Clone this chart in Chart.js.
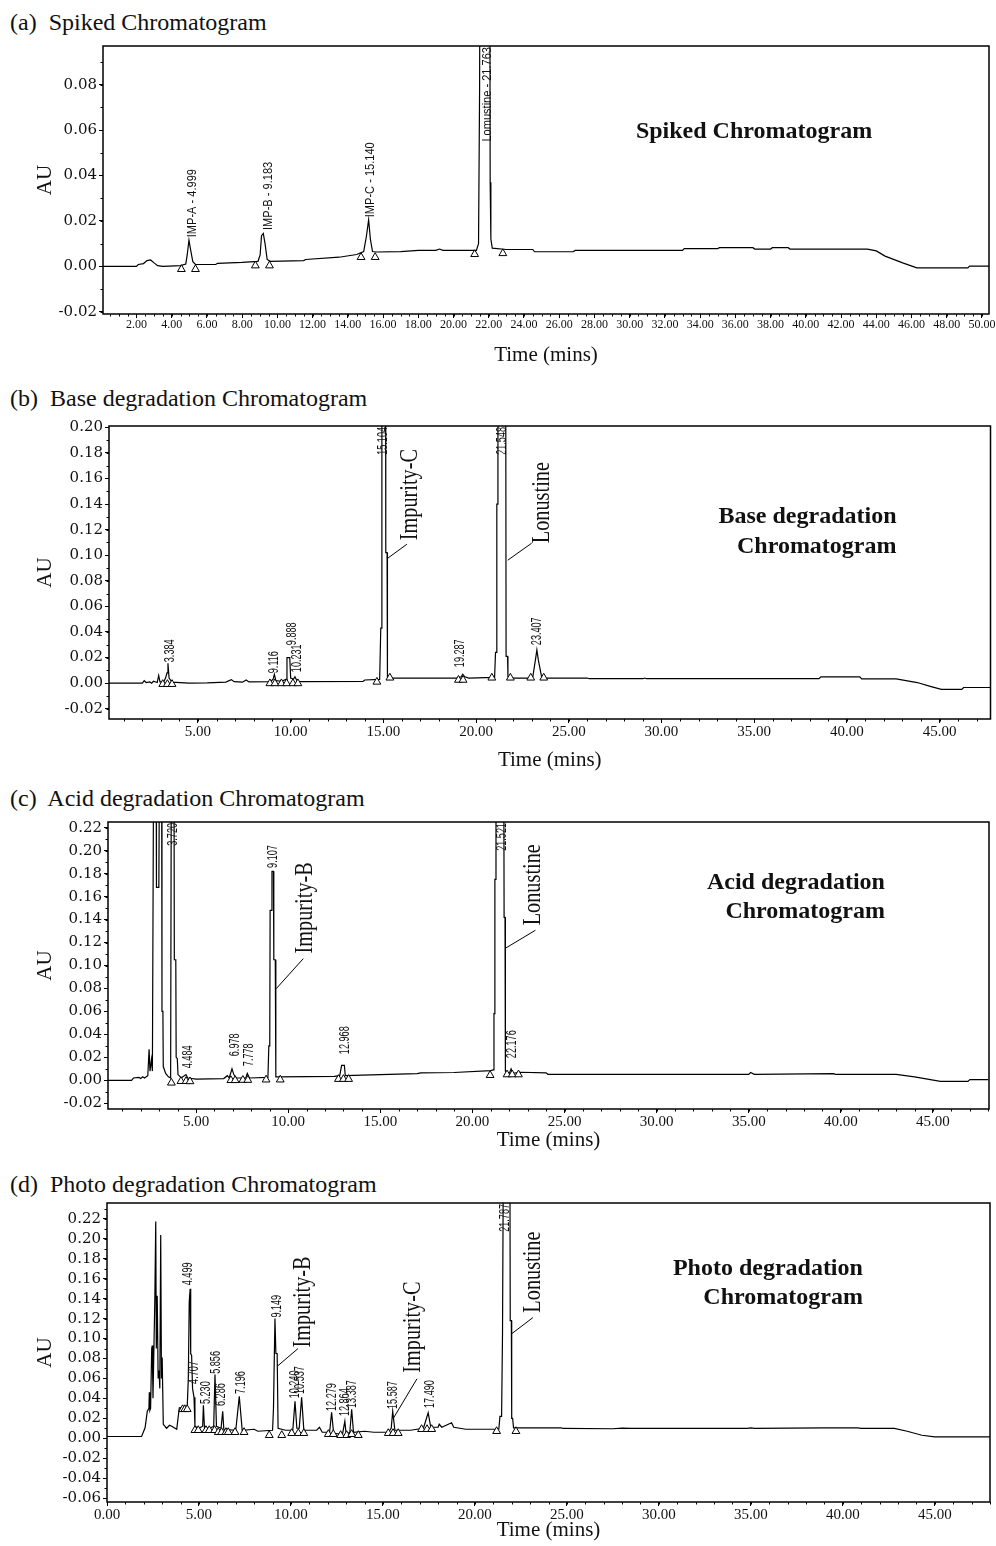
<!DOCTYPE html>
<html>
<head>
<meta charset="utf-8">
<script src="https://cdn.jsdelivr.net/npm/chart.js@4.4.1/dist/chart.umd.min.js"></script>
<style>
  body { margin: 0; background: #fff; width: 996px; height: 1546px; position: relative; overflow: hidden; font-family: "Liberation Serif", serif; }
  .title { position: absolute; left: 10px; font-size: 24px; line-height: 28px; white-space: pre; color: #111; }
  .box { position: absolute; left: 0; width: 996px; }
</style>
</head>
<body>
<div class="title" style="top:8px">(a)  Spiked Chromatogram</div>
<div class="box" style="top:40px;height:330px"><canvas id="chartA"></canvas></div>
<div class="title" style="top:384px">(b)  Base degradation Chromatogram</div>
<div class="box" style="top:410px;height:365px"><canvas id="chartB"></canvas></div>
<div class="title" style="top:784px">(c)  Acid degradation Chromatogram</div>
<div class="box" style="top:812px;height:343px"><canvas id="chartC"></canvas></div>
<div class="title" style="top:1170px">(d)  Photo degradation Chromatogram</div>
<div class="box" style="top:1195px;height:349px"><canvas id="chartD"></canvas></div>

<script>
// tick values
const xTicksA = [2, 4, 6, 8, 10, 12, 14, 16, 18, 20, 22, 24, 26, 28, 30, 32, 34, 36, 38, 40, 42, 44, 46, 48, 50];
const xTicksB = [5, 10, 15, 20, 25, 30, 35, 40, 45];
const xTicksD = [0, 5, 10, 15, 20, 25, 30, 35, 40, 45];
const yTicksA = [-0.02, 0, 0.02, 0.04, 0.06, 0.08];
const yTicksB = [-0.02, 0, 0.02, 0.04, 0.06, 0.08, 0.10, 0.12, 0.14, 0.16, 0.18, 0.20];
const yTicksC = [-0.02, 0, 0.02, 0.04, 0.06, 0.08, 0.10, 0.12, 0.14, 0.16, 0.18, 0.20, 0.22];
const yTicksD = [-0.06, -0.04, -0.02, 0, 0.02, 0.04, 0.06, 0.08, 0.10, 0.12, 0.14, 0.16, 0.18, 0.20, 0.22];

// traces [time (min), AU]
const traceA = [
  [0.1, 0], [2.0, 0], [2.1, 0.0008], [2.4, 0.0012], [2.6, 0.0025], [2.8, 0.0028], [3.0, 0.0015], [3.2, 0.0003], [3.5, 0],
  [4.5, 0.0003], [4.8, 0.001], [4.88, 0.005], [4.98, 0.0115], [5.08, 0.007], [5.2, 0.002], [5.35, 0.0008], [6.5, 0.0008],
  [6.6, 0.0013], [8.0, 0.0017], [8.9, 0.0022], [9.02, 0.005], [9.1, 0.0135], [9.2, 0.0145], [9.3, 0.01], [9.42, 0.003],
  [9.6, 0.0022], [11.5, 0.0025], [11.6, 0.003], [13.5, 0.004], [14.5, 0.0052], [14.9, 0.0065], [15.05, 0.013],
  [15.18, 0.0205], [15.28, 0.012], [15.4, 0.0065], [15.6, 0.0063], [17, 0.0065], [18, 0.007], [19, 0.007], [19.2, 0.0076],
  [19.4, 0.007], [21.3, 0.007], [21.42, 0.01], [21.48, 0.078], [21.52, 0.2], [22.05, 0.2], [22.08, 0.037], [22.12, 0.012],
  [22.2, 0.008], [23.0, 0.0074], [24.5, 0.0074], [24.6, 0.0064], [26.8, 0.0064], [26.9, 0.007], [33, 0.007], [33.1, 0.0078],
  [35, 0.0078], [35.1, 0.0082], [37, 0.0082], [37.1, 0.0076], [38, 0.0076], [38.1, 0.0082], [39, 0.0082], [39.1, 0.0076],
  [43.5, 0.0076], [44, 0.0068], [44.5, 0.0045], [45.5, 0.0015], [46.3, -0.0007], [49.2, -0.0007], [49.3, 0.0001], [50.4, 0.0001]
];
const traceB = [
  [0.2, 0], [2.0, 0], [2.1, 0.002], [2.2, 0.0005], [2.4, 0.001], [2.5, 0], [2.6, 0.0015], [2.8, 0.0005], [2.88, 0.006],
  [2.95, 0.001], [3.15, 0.001], [3.25, 0.004], [3.33, 0.008], [3.38, 0.0155], [3.44, 0.004], [3.6, 0.0008], [4.5, 0],
  [5.5, 0.0002], [6.5, 0.0008], [6.8, 0.0028], [6.95, 0.0012], [7.4, 0.0008], [7.6, 0.0025], [7.75, 0.001], [8.9, 0.0012],
  [9.05, 0.003], [9.12, 0.007], [9.2, 0.002], [9.5, 0.0015], [9.75, 0.003], [9.8, 0.02], [9.95, 0.02], [10.0, 0.004],
  [10.15, 0.003], [10.23, 0.005], [10.35, 0.0015], [10.6, 0.0012], [13.9, 0.0014], [14.0, 0.0025], [14.8, 0.003],
  [14.86, 0.043], [14.9, 0.043], [14.92, 0.25], [15.12, 0.25], [15.13, 0.102], [15.2, 0.102], [15.22, 0.005], [15.4, 0.004],
  [19.0, 0.004], [19.2, 0.005], [19.28, 0.007], [19.4, 0.005], [19.6, 0.004], [21.0, 0.0045], [21.05, 0.024], [21.1, 0.024],
  [21.12, 0.14], [21.16, 0.14], [21.18, 0.25], [21.6, 0.25], [21.62, 0.021], [21.7, 0.021], [21.72, 0.005], [22.0, 0.004],
  [23.05, 0.004], [23.2, 0.018], [23.28, 0.026], [23.36, 0.018], [23.55, 0.004], [26, 0.004], [26.1, 0.0035], [29, 0.0035],
  [29.1, 0.004], [29.2, 0.0035], [38.5, 0.0035], [38.6, 0.005], [40.7, 0.005], [40.8, 0.0033], [42.66, 0.0033],
  [43.8, 0.0005], [44.5, -0.0025], [45.1, -0.0049], [46.2, -0.0049], [46.3, -0.0034], [47.8, -0.0034]
];
const traceC = [
  [0.2, 0], [1.5, 0], [1.6, 0.002], [1.9, 0.0025], [2.0, 0.0015], [2.1, 0.003], [2.2, 0.002], [2.38, 0.004], [2.45, 0.027],
  [2.5, 0.008], [2.58, 0.018], [2.63, 0.008], [2.7, 0.3], [2.83, 0.3], [2.85, 0.168], [2.98, 0.168], [3.02, 0.3], [3.13, 0.3],
  [3.15, 0.06], [3.2, 0.06], [3.22, 0.012], [3.35, 0.006], [3.5, 0.003], [3.62, 0.002], [3.66, 0.3], [3.8, 0.3], [3.82, 0.105],
  [3.9, 0.105], [3.92, 0.02], [3.98, 0.019], [4.02, 0.005], [4.2, 0.002], [4.45, 0.005], [4.55, 0.002], [5.0, 0.001],
  [6.5, 0.0015], [6.7, 0.004], [6.8, 0.002], [6.95, 0.01], [7.05, 0.005], [7.2, 0.002], [7.7, 0.002], [7.78, 0.006],
  [7.9, 0.002], [8.9, 0.0025], [8.95, 0.03], [9.0, 0.03], [9.02, 0.148], [9.1, 0.148], [9.12, 0.182], [9.2, 0.182],
  [9.22, 0.105], [9.3, 0.105], [9.33, 0.003], [9.5, 0.003], [12.5, 0.0035], [12.8, 0.004], [12.9, 0.013], [13.05, 0.013],
  [13.1, 0.004], [15, 0.005], [17, 0.0058], [17.2, 0.0065], [19, 0.0068], [21.0, 0.0085], [21.13, 0.009], [21.17, 0.058],
  [21.2, 0.058], [21.22, 0.175], [21.26, 0.175], [21.28, 0.3], [21.7, 0.3], [21.72, 0.142], [21.77, 0.142], [21.79, 0.008],
  [22.0, 0.006], [22.1, 0.01], [22.2, 0.006], [22.6, 0.007], [24.0, 0.0065], [24.1, 0.0052], [35, 0.0052], [35.1, 0.0068],
  [35.3, 0.0052], [39.6, 0.0058], [39.7, 0.0052], [43.0, 0.0052], [44, 0.003], [45.4, -0.0009], [46.9, -0.0009],
  [47.0, 0.0006], [48, 0.0006]
];
const traceD = [
  [0, 0.0017], [1.88, 0.0017], [2.07, 0.0104], [2.19, 0.027], [2.28, 0.03], [2.3, 0.046], [2.33, 0.028], [2.37, 0.03],
  [2.43, 0.09], [2.46, 0.093], [2.5, 0.04], [2.55, 0.09], [2.6, 0.14], [2.65, 0.2175], [2.68, 0.09], [2.73, 0.143],
  [2.78, 0.06], [2.83, 0.068], [2.87, 0.05], [2.92, 0.204], [2.96, 0.06], [3.0, 0.081], [3.06, 0.014], [3.24, 0.01],
  [3.4, 0.013], [3.52, 0.012], [3.79, 0.009], [3.93, 0.0306], [4.36, 0.031], [4.42, 0.06], [4.47, 0.137], [4.52, 0.15],
  [4.55, 0.085], [4.6, 0.083], [4.65, 0.05], [4.73, 0.041], [4.78, 0.012], [5.0, 0.01], [5.2, 0.012], [5.24, 0.033],
  [5.3, 0.01], [5.6, 0.01], [5.8, 0.012], [5.87, 0.064], [5.95, 0.012], [6.2, 0.01], [6.29, 0.027], [6.35, 0.009],
  [7.0, 0.008], [7.19, 0.042], [7.35, 0.008], [8.0, 0.009], [8.2, 0.007], [9.0, 0.008], [9.05, 0.03], [9.13, 0.12],
  [9.18, 0.085], [9.25, 0.085], [9.3, 0.01], [9.7, 0.008], [10.1, 0.008], [10.22, 0.037], [10.32, 0.01], [10.45, 0.01],
  [10.58, 0.041], [10.7, 0.008], [11.4, 0.008], [11.55, 0.011], [11.7, 0.006], [12.1, 0.006], [12.21, 0.026], [12.32, 0.005],
  [12.8, 0.004], [12.93, 0.017], [13.0, 0.004], [13.2, 0.006], [13.3, 0.029], [13.4, 0.006], [14.0, 0.007], [14.5, 0.006],
  [15.3, 0.006], [15.45, 0.01], [15.53, 0.027], [15.65, 0.008], [16.5, 0.008], [17.2, 0.01], [17.46, 0.0256], [17.6, 0.011],
  [18.0, 0.011], [18.06, 0.014], [18.2, 0.011], [18.73, 0.0155], [18.85, 0.011], [19.5, 0.009], [21.3, 0.009], [21.36, 0.022],
  [21.45, 0.022], [21.5, 0.105], [21.55, 0.3], [21.9, 0.3], [21.92, 0.118], [21.98, 0.118], [22.0, 0.02], [22.05, 0.02],
  [22.1, 0.0104], [24.7, 0.0104], [24.8, 0.0098], [27.5, 0.0095], [28, 0.0102], [28.5, 0.0098], [34.8, 0.0098],
  [35, 0.0104], [35.2, 0.0098], [39, 0.0104], [40.8, 0.0104], [41, 0.0098], [42.8, 0.0098], [43.5, 0.007], [44.3, 0.003],
  [45.0, 0.0013], [48, 0.0013]
];

// integration start/end markers (triangles)
const marksA = [[4.55, -0.0013], [5.35, -0.0013], [8.75, 0.0003], [9.55, 0.0003], [14.75, 0.004], [15.55, 0.004], [21.2, 0.0053], [22.8, 0.0057]];
const marksB = [[3.1, -0.0008], [3.35, -0.0008], [3.6, -0.0008], [8.88, -0.0002], [9.15, -0.0002], [9.5, -0.0002], [9.78, -0.0002],
  [10.12, -0.0002], [10.39, -0.0002], [14.65, 0.001], [15.35, 0.0042], [19.05, 0.0025], [19.3, 0.0025], [20.85, 0.0042],
  [21.85, 0.0042], [22.95, 0.0042], [23.65, 0.0042]];
const marksC = [[3.66, -0.0022], [4.18, -0.0008], [4.46, -0.0008], [4.67, -0.001], [6.89, 0], [7.12, 0], [7.54, 0.0002], [7.81, 0.0002],
  [8.8, 0.0005], [9.57, 0.0005], [12.73, 0.001], [13.0, 0.001], [13.28, 0.001], [20.96, 0.0044], [21.88, 0.005], [22.16, 0.005], [22.5, 0.005]];
const marksD = [[4.11, 0.029], [4.23, 0.029], [4.36, 0.029], [4.78, 0.008], [4.96, 0.008], [5.38, 0.008], [5.56, 0.008], [5.85, 0.008],
  [6.05, 0.006], [6.23, 0.006], [6.47, 0.006], [6.59, 0.006], [6.96, 0.006], [7.45, 0.006], [8.82, 0.003], [9.5, 0.003],
  [10.04, 0.005], [10.4, 0.005], [10.7, 0.005], [12.03, 0.004], [12.3, 0.004], [12.7, 0.003], [13.03, 0.003], [13.3, 0.004],
  [13.66, 0.003], [15.29, 0.005], [15.55, 0.005], [15.83, 0.005], [17.1, 0.009], [17.4, 0.009], [17.65, 0.009], [21.18, 0.007], [22.23, 0.007]];

// peak labels [time, AU where the label starts (null = hangs from top), text]
const peakLabelsA = [[5.16, 0.0128, 'IMP-A - 4.999'], [9.5, 0.016, 'IMP-B - 9.183'], [15.3, 0.0216, 'IMP-C - 15.140'], [21.94, null, 'Lomustine - 21.763']];
const peakLabelsB = [[3.49, 0.0164, '3.384'], [9.10, 0.0078, '9.116'], [10.07, 0.0297, '9.888'], [10.34, 0.0086, '10.231'],
  [14.97, null, '15.104'], [19.12, 0.0125, '19.287'], [21.39, null, '21.548'], [23.27, 0.0297, '23.407']];
const peakLabelsC = [[3.75, null, '3.720'], [4.57, 0.0105, '4.484'], [7.12, 0.021, '6.978'], [7.88, 0.0123, '7.778'],
  [9.18, 0.185, '9.107'], [13.10, 0.0228, '12.968'], [21.63, null, '21.521'], [22.17, 0.0193, '22.176']];
const peakLabelsD = [[4.40, 0.1535, '4.499'], [4.73, 0.0545, '4.707'], [5.38, 0.0343, '5.230'], [5.92, 0.0646, '5.856'],
  [6.20, 0.0323, '6.286'], [7.28, 0.0444, '7.196'], [9.24, 0.121, '9.149'], [10.22, 0.040, '10.240'], [10.49, 0.0444, '10.537'],
  [12.23, 0.0273, '12.279'], [12.93, 0.0222, '12.864'], [13.32, 0.0303, '13.387'], [15.54, 0.0293, '15.587'],
  [17.55, 0.0303, '17.490'], [21.63, null, '21.787']];

const decor = {
  id: 'decor',
  afterDatasetsDraw(chart, args, o) {
    const { ctx, chartArea: a, scales: { x, y } } = chart;
    ctx.save();
    ctx.strokeStyle = '#000';
    ctx.lineWidth = 1;
    ctx.beginPath();
    const nx0 = Math.ceil(x.min / o.xMinor), nx1 = Math.floor(x.max / o.xMinor);
    for (let i = nx0; i <= nx1; i++) {
      const px = Math.round(x.getPixelForValue(i * o.xMinor)) + 0.5;
      ctx.moveTo(px, a.bottom);
      ctx.lineTo(px, a.bottom + 2.5);
    }
    const ny0 = Math.ceil(y.min / o.yMinor - 1e-9), ny1 = Math.floor(y.max / o.yMinor + 1e-9);
    for (let i = ny0; i <= ny1; i++) {
      const py = Math.round(y.getPixelForValue(i * o.yMinor)) + 0.5;
      ctx.moveTo(a.left, py);
      ctx.lineTo(a.left - 2.5, py);
    }
    ctx.stroke();
    ctx.lineWidth = 1.5;
    ctx.strokeRect(a.left, a.top, a.right - a.left, a.bottom - a.top);

    ctx.fillStyle = '#111';
    ctx.textBaseline = 'middle';
    ctx.textAlign = 'left';
    const vtext = (txt, px, py, font, sc) => {
      ctx.save();
      ctx.font = font;
      ctx.translate(px, py);
      ctx.rotate(-Math.PI / 2);
      ctx.scale(sc, 1);
      ctx.fillText(txt, 0, 0);
      ctx.restore();
    };
    o.peaks.forEach(([t, lv, txt]) => {
      ctx.font = o.peakFont;
      const w = ctx.measureText(txt).width * o.peakScale;
      const py = lv === null ? a.top + w + 1 : y.getPixelForValue(lv);
      vtext(txt, x.getPixelForValue(t), py, o.peakFont, o.peakScale);
    });
    ctx.lineWidth = 1;
    o.callouts.forEach(c => {
      ctx.beginPath();
      ctx.moveTo(x.getPixelForValue(c.from[0]), y.getPixelForValue(c.from[1]));
      ctx.lineTo(x.getPixelForValue(c.to[0]), y.getPixelForValue(c.to[1]));
      ctx.stroke();
      vtext(c.text, x.getPixelForValue(c.x), y.getPixelForValue(c.y), '26px "Liberation Serif"', 0.78);
    });
    ctx.font = 'bold 24px "Liberation Serif"';
    ctx.textAlign = o.note.align;
    o.note.lines.forEach((ln, i) => {
      ctx.fillText(ln, x.getPixelForValue(o.note.x), y.getPixelForValue(o.note.y[i]));
    });
    ctx.restore();
  }
};

const panels = [
  { id: 'chartA', trace: traceA, marks: marksA, peaks: peakLabelsA, xTicks: xTicksA, yTicks: yTicksA,
    xMin: 0.1, xMax: 50.4, yMin: -0.021, yMax: 0.097, left: 103, top: 6, right: 7, xh: 56, titlePad: 2.4,
    xFont: 12, xMinor: 0.5, yMinor: 0.01, peakFont: '13px "Liberation Sans"', peakScale: 0.85,
    callouts: [],
    note: { lines: ['Spiked Chromatogram'], x: 37.06, y: [0.0592], align: 'center' } },
  { id: 'chartB', trace: traceB, marks: marksB, peaks: peakLabelsB, xTicks: xTicksB, yTicks: yTicksB,
    xMin: 0.2, xMax: 47.75, yMin: -0.028, yMax: 0.201, left: 109, top: 16, right: 5, xh: 56, titlePad: 2.4,
    xFont: 15, xMinor: 1, yMinor: 0.01, peakFont: '14px "Liberation Sans"', peakScale: 0.65,
    callouts: [
      { text: 'Impurity-C', x: 16.43, y: 0.1117, from: [15.24, 0.0977], to: [16.27, 0.1086] },
      { text: 'Lonustine', x: 23.54, y: 0.1094, from: [21.71, 0.0961], to: [23.0, 0.1094] }
    ],
    note: { lines: ['Base degradation', 'Chromatogram'], x: 42.68, y: [0.1297, 0.1063], align: 'right' } },
  { id: 'chartC', trace: traceC, marks: marksC, peaks: peakLabelsC, xTicks: xTicksB, yTicks: yTicksC,
    xMin: 0.22, xMax: 48.04, yMin: -0.025, yMax: 0.225, left: 108, top: 10, right: 7, xh: 46, titlePad: 2.4,
    xFont: 15, xMinor: 1, yMinor: 0.01, peakFont: '14px "Liberation Sans"', peakScale: 0.65,
    callouts: [
      { text: 'Impurity-B', x: 10.92, y: 0.1105, from: [9.35, 0.0798], to: [10.82, 0.106] },
      { text: 'Lonustine', x: 23.32, y: 0.135, from: [21.79, 0.115], to: [23.42, 0.1307] }
    ],
    note: { lines: ['Acid degradation', 'Chromatogram'], x: 42.39, y: [0.172, 0.1465], align: 'right' } },
  { id: 'chartD', trace: traceD, marks: marksD, peaks: peakLabelsD, xTicks: xTicksD, yTicks: yTicksD,
    xMin: 0, xMax: 48, yMin: -0.064, yMax: 0.236, left: 107, top: 8, right: 6, xh: 42, titlePad: 1.4,
    xFont: 15, xMinor: 1, yMinor: 0.01, peakFont: '14px "Liberation Sans"', peakScale: 0.65,
    callouts: [
      { text: 'Impurity-B', x: 10.65, y: 0.0909, from: [9.29, 0.0727], to: [10.38, 0.0899] },
      { text: 'Impurity-C', x: 16.63, y: 0.0657, from: [15.54, 0.0192], to: [16.85, 0.0596] },
      { text: 'Lonustine', x: 23.15, y: 0.126, from: [22.01, 0.105], to: [23.15, 0.121] }
    ],
    note: { lines: ['Photo degradation', 'Chromatogram'], x: 41.09, y: [0.1697, 0.1404], align: 'right' } }
];

function makeChart(p) {
  return new Chart(document.getElementById(p.id), {
    type: 'line',
    data: {
      datasets: [
        { data: p.marks, showLine: false, pointStyle: 'triangle', pointRadius: 4.5,
          pointBackgroundColor: '#fff', pointBorderColor: '#000', pointBorderWidth: 1 },
        { data: p.trace, borderColor: '#000', borderWidth: 1.2, pointRadius: 0, tension: 0, fill: false }
      ]
    },
    options: {
      responsive: true,
      maintainAspectRatio: false,
      animation: false,
      layout: { padding: { top: p.top, right: p.right, left: 0, bottom: 0 } },
      plugins: {
        legend: { display: false },
        tooltip: { enabled: false },
        decor: { xMinor: p.xMinor, yMinor: p.yMinor, peaks: p.peaks, peakFont: p.peakFont,
          peakScale: p.peakScale, callouts: p.callouts, note: p.note }
      },
      scales: {
        x: {
          type: 'linear', min: p.xMin, max: p.xMax,
          afterBuildTicks: s => { s.ticks = p.xTicks.map(v => ({ value: v })); },
          afterFit: s => { s.height = p.xh; s.paddingLeft = 0; s.paddingRight = 0; },
          grid: { drawOnChartArea: false, color: '#000', tickLength: 4 },
          border: { display: false },
          ticks: { autoSkip: false, maxRotation: 0, padding: 0, color: '#111',
            font: { family: 'Liberation Serif', size: p.xFont }, callback: v => v.toFixed(2) },
          title: { display: true, text: 'Time (mins)', color: '#111',
            font: { family: 'Liberation Serif', size: 21 }, padding: { top: 0, bottom: p.titlePad } }
        },
        y: {
          min: p.yMin, max: p.yMax,
          afterBuildTicks: s => { s.ticks = p.yTicks.map(v => ({ value: v })); },
          afterFit: s => { s.width = p.left; s.paddingTop = 0; s.paddingBottom = 0; },
          grid: { drawOnChartArea: false, color: '#000', tickLength: 4 },
          border: { display: false },
          ticks: { autoSkip: false, padding: 2, color: '#111',
            font: { family: 'DejaVu Serif', size: 15 }, callback: v => v.toFixed(2) },
          title: { display: true, text: 'AU', color: '#111',
            font: { family: 'Liberation Serif', size: 21 }, padding: { top: 32.4, bottom: 0 } }
        }
      }
    },
    plugins: [decor]
  });
}

panels.forEach(makeChart);
</script>
</body>
</html>
